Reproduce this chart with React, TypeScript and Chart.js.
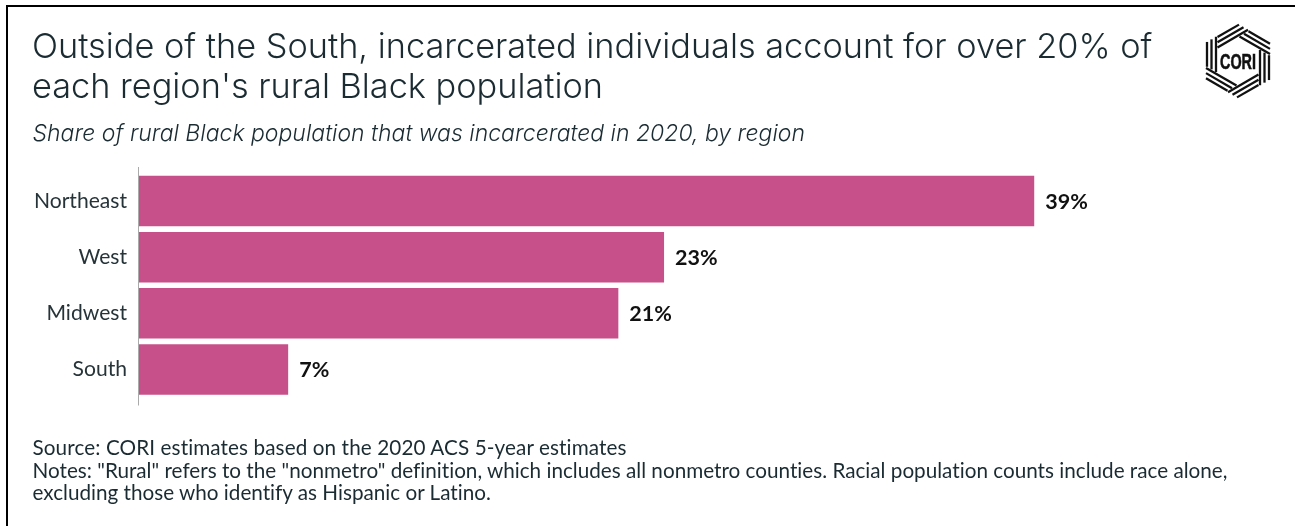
import React, { useEffect, useRef } from "react";
import { Chart, registerables } from "chart.js";

Chart.register(...registerables);

const regions = ["Northeast", "West", "Midwest", "South"];
const shares = [39.2, 23, 21, 6.55];
const titleLines = [
  "Outside of the South, incarcerated individuals account for over 20% of",
  "each region's rural Black population",
];
const subtitle = "Share of rural Black population that was incarcerated in 2020, by region";
const noteLines = [
  "Source: CORI estimates based on the 2020 ACS 5-year estimates",
  'Notes: "Rural" refers to the "nonmetro" definition, which includes all nonmetro counties. Racial population counts include race alone,',
  "excluding those who identify as Hispanic or Latino.",
];

const valueLabels = {
  id: "valueLabels",
  afterDatasetsDraw(chart: any) {
    const { ctx } = chart;
    ctx.save();
    ctx.font = "700 21.5px Lato";
    ctx.fillStyle = "#111";
    ctx.textBaseline = "middle";
    chart.getDatasetMeta(0).data.forEach((bar: any, i: number) => {
      ctx.fillText(Math.round(shares[i]) + "%", bar.x + 11, bar.y + 0.5);
    });
    ctx.restore();
  },
};

const axisLine = {
  id: "axisLine",
  afterDatasetsDraw(chart: any) {
    const { ctx, chartArea } = chart;
    ctx.save();
    ctx.strokeStyle = "#aaaaaa";
    ctx.lineWidth = 1;
    ctx.beginPath();
    ctx.moveTo(chartArea.left, chartArea.top - 6);
    ctx.lineTo(chartArea.left, chartArea.bottom + 8);
    ctx.stroke();
    ctx.restore();
  },
};

function Logo() {
  const depths = [22, 26.5, 31];
  return (
    <svg
      width={66}
      height={76}
      viewBox="-33 -38 66 76"
      style={{ position: "absolute", left: 1205, top: 22.5 }}
    >
      {[30, 90, 150, 210, 270, 330].map((angle) => (
        <g key={angle} transform={`rotate(${angle})`}>
          {depths.map((d) => (
            <line
              key={d}
              x1={(d * 0.5 - 20.5) / 0.866}
              y1={-d}
              x2={(32 - d * 0.5) / 0.866}
              y2={-d}
              stroke="#111"
              strokeWidth={2.3}
            />
          ))}
        </g>
      ))}
      <text
        x={0}
        y={7.7}
        textAnchor="middle"
        fontFamily="Liberation Sans Narrow, Liberation Sans"
        fontWeight={700}
        fontSize={21.5}
        textLength={36}
        lengthAdjust="spacingAndGlyphs"
        stroke="#111"
        strokeWidth={0.6}
        fill="#111"
      >
        CORI
      </text>
    </svg>
  );
}

export default function App() {
  const ref = useRef<HTMLCanvasElement>(null);
  useEffect(() => {
    const chart = new Chart(ref.current!, {
      type: "bar",
      data: {
        labels: regions,
        datasets: [
          {
            data: shares,
            backgroundColor: "#c7508a",
            barPercentage: 0.9,
            categoryPercentage: 1,
          },
        ],
      },
      options: {
        indexAxis: "y",
        responsive: false,
        animation: false,
        layout: { padding: { top: 173, bottom: 128.5, right: 14, left: 0 } },
        plugins: { legend: { display: false }, tooltip: { enabled: false } },
        scales: {
          x: { display: false, min: 0, max: 50 },
          y: {
            afterFit(scale: any) {
              scale.width = 138.5;
            },
            grid: { display: false },
            border: { display: false },
            ticks: {
              color: "#26343a",
              padding: 3.5,
              font: { family: "Lato", size: 21.1 },
            },
          },
        },
      },
      plugins: [valueLabels, axisLine],
    });
    return () => chart.destroy();
  }, []);

  return (
    <div
      style={{
        position: "absolute",
        left: 0,
        top: 0,
        width: 1295,
        height: 526,
        overflow: "hidden",
        background: "#fff",
        color: "#1a2b32",
      }}
    >
      <canvas ref={ref} width={1295} height={526} style={{ position: "absolute", left: 0, top: 0 }} />
      <div style={{ position: "absolute", left: 6, top: 5, width: 1400, height: 600, border: "2px solid #000", boxSizing: "border-box" }} />
      <div style={{ position: "absolute", left: 32, top: 26, fontFamily: "Inter", fontWeight: 300, fontSize: 34.3, lineHeight: "40px", whiteSpace: "nowrap" }}>
        {titleLines.map((t) => (
          <div key={t}>{t}</div>
        ))}
      </div>
      <div style={{ position: "absolute", left: 32.5, top: 119, fontFamily: "Inter", fontStyle: "italic", fontWeight: 300, fontSize: 23, lineHeight: "28px", whiteSpace: "nowrap" }}>
        {subtitle}
      </div>
      <div style={{ position: "absolute", left: 32.5, top: 436, fontFamily: "Lato", fontSize: 20.7, lineHeight: "22.5px", whiteSpace: "nowrap", fontVariantLigatures: "none" }}>
        {noteLines.map((t, i) => (
          <div key={t} style={{ letterSpacing: i === 0 ? 0.1 : 0 }}>{t}</div>
        ))}
      </div>
      <Logo />
    </div>
  );
}
